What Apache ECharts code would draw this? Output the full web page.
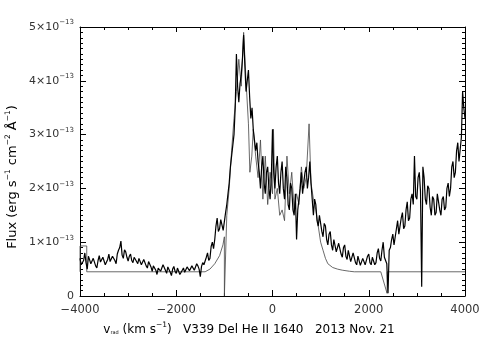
<!DOCTYPE html>
<html>
<head>
<meta charset="utf-8">
<script src="https://cdn.jsdelivr.net/npm/echarts@6/dist/echarts.min.js"></script>
<style>
  html, body { margin: 0; padding: 0; background: #fff; }
  #chart { width: 491px; height: 351px; }
</style>
</head>
<body>
<div id="chart"></div>
<script>
// flux in units of 1e-13 erg s^-1 cm^-2 A^-1, sampled every 25 km/s from -4000
const vStart = -4000;
const vStep = 25;
const fluxObs = [
  0.70, 0.58, 0.55, 0.66, 0.80, 0.62, 0.50, 0.74, 0.72, 0.60, 0.58, 0.70, 0.68, 0.56, 0.52, 0.66, 0.75, 0.63, 0.60, 0.72,
  0.70, 0.58, 0.55, 0.68, 0.78, 0.64, 0.62, 0.74, 0.72, 0.66, 0.60, 0.78, 0.85, 0.90, 1.02, 0.76, 0.70, 0.86, 0.82, 0.72,
  0.65, 0.74, 0.78, 0.66, 0.62, 0.72, 0.74, 0.64, 0.60, 0.70, 0.70, 0.58, 0.55, 0.68, 0.66, 0.56, 0.52, 0.64, 0.62, 0.54,
  0.46, 0.56, 0.58, 0.48, 0.40, 0.52, 0.55, 0.46, 0.45, 0.58, 0.60, 0.48, 0.42, 0.54, 0.52, 0.44, 0.38, 0.50, 0.55, 0.46,
  0.42, 0.52, 0.50, 0.40, 0.38, 0.48, 0.52, 0.44, 0.44, 0.54, 0.55, 0.47, 0.46, 0.56, 0.58, 0.48, 0.48, 0.60, 0.56, 0.50,
  0.36, 0.55, 0.62, 0.58, 0.55, 0.72, 0.80, 0.66, 0.70, 0.92, 1.00, 0.88, 1.05, 1.30, 1.45, 1.20, 1.25, 1.42, 1.40, 1.22,
  1.20, 1.55, 1.70, 1.90, 2.10, 2.40, 2.60, 2.80, 3.00, 3.50, 4.50, 3.90, 3.60, 3.95, 4.10, 4.40, 4.85, 4.30, 3.80, 4.00,
  4.20, 3.70, 3.30, 3.50, 3.10, 2.90, 2.70, 2.85, 2.50, 2.30, 2.00, 2.40, 2.60, 2.10, 1.90, 2.30, 2.40, 2.00, 1.80, 2.20,
  3.10, 2.30, 2.00, 2.40, 2.60, 2.10, 1.90, 2.30, 2.50, 2.00, 1.80, 2.40, 2.20, 1.70, 1.60, 2.10, 2.00, 1.60, 1.50, 1.90,
  1.05, 1.60, 1.80, 2.00, 2.30, 1.90, 1.90, 2.30, 2.40, 2.00, 2.20, 2.50, 2.10, 1.80, 1.50, 1.80, 1.70, 1.40, 1.30, 1.50,
  1.50, 1.20, 1.10, 1.35, 1.30, 1.05, 0.95, 1.15, 1.20, 0.95, 0.85, 1.05, 1.05, 0.82, 0.80, 0.98, 1.00, 0.78, 0.72, 0.90,
  0.95, 0.74, 0.68, 0.85, 0.85, 0.64, 0.62, 0.80, 0.80, 0.62, 0.58, 0.74, 0.75, 0.57, 0.55, 0.70, 0.72, 0.58, 0.60, 0.74,
  0.78, 0.62, 0.58, 0.72, 0.70, 0.58, 0.62, 0.80, 0.88, 0.70, 0.65, 0.85, 1.00, 0.72, 0.70, 0.60, 0.05, 0.85, 0.90, 1.05,
  1.15, 0.95, 0.95, 1.25, 1.40, 1.15, 1.15, 1.45, 1.55, 1.25, 1.30, 1.60, 1.75, 1.40, 1.45, 1.80, 1.90, 1.70, 2.60, 1.85,
  1.80, 2.20, 2.30, 1.95, 0.17, 2.40, 2.20, 1.80, 1.70, 2.05, 2.00, 1.65, 1.50, 1.85, 1.80, 1.50, 1.55, 1.90, 1.90, 1.60,
  1.50, 1.80, 1.85, 1.60, 1.65, 2.00, 2.10, 1.85, 2.00, 2.40, 2.50, 2.20, 2.30, 2.70, 2.85, 2.50, 2.50, 2.95, 3.80, 3.50,
  3.30
];
// second (thin) trace
const velocityRef = [
  -4000, -4000, -3860, -3860, -1400, -1300, -1200, -1100, -1030, -1000,
  -1000, -950, -900, -850, -800, -750, -700, -650, -600, -550,
  -500, -470, -430, -400, -350, -300, -250, -200, -150, -100,
  -50, 0, 20, 50, 100, 150, 200, 250, 300, 350,
  400, 450, 500, 550, 600, 650, 700, 760, 800, 850,
  900, 950, 1000, 1050, 1100, 1150, 1250, 1350, 1450, 1600,
  1700, 2250, 2380, 2385, 4000
];
const fluxRef = [
  0.45, 0.93, 0.93, 0.45, 0.45, 0.50, 0.60, 0.75, 0.95, 1.10,
  0.00, 1.50, 2.00, 2.70, 3.30, 3.80, 4.40, 3.90, 4.90, 4.00,
  3.20, 2.30, 2.60, 3.10, 2.60, 2.20, 2.90, 1.80, 2.60, 1.70,
  2.30, 1.90, 3.10, 1.80, 2.00, 1.50, 1.60, 1.40, 2.60, 1.90,
  2.30, 1.60, 1.90, 1.70, 2.40, 2.00, 2.20, 3.20, 2.10, 1.80,
  1.60, 1.30, 1.00, 0.85, 0.70, 0.60, 0.53, 0.50, 0.48, 0.46,
  0.45, 0.45, 0.05, 0.45, 0.45
];
const xTicks = [-4000, -2000, 0, 2000, 4000];
const yTicks = [0, 1, 2, 3, 4, 5];

const chart = echarts.init(document.getElementById('chart'), null, { renderer: 'canvas' });

const font = '"DejaVu Sans", sans-serif';
const ink = '#333';

const supStyle = { fontSize: 7, fontFamily: font, color: ink, padding: [0, 0, 9, 0] };
const subStyle = { fontSize: 5, fontFamily: font, color: ink, padding: [5, 0, 0, 0] };
const baseStyle = { fontSize: 11, fontFamily: font, color: ink };
const titleStyle = { fontSize: 12, fontFamily: font, color: ink };
const titleSup = { fontSize: 7.5, fontFamily: font, color: ink, padding: [0, 0, 10, 0] };

const axisCommon = {
  type: 'value',
  axisLine: { show: true, onZero: false, lineStyle: { color: '#000', width: 1 } },
  axisTick: { show: true, inside: true, length: 6, lineStyle: { color: '#000', width: 1 } },
  minorTick: { show: true, length: 3, lineStyle: { color: '#000', width: 1 } },
  splitLine: { show: false },
  minorSplitLine: { show: false }
};

const option = {
  animation: false,
  backgroundColor: '#fff',
  grid: { left: 80, right: 26, top: 27, bottom: 55 },
  xAxis: [
    Object.assign({}, axisCommon, {
      position: 'bottom',
      min: xTicks[0], max: xTicks[xTicks.length - 1], interval: 2000,
      minorTick: Object.assign({}, axisCommon.minorTick, { splitNumber: 4 }),
      axisLabel: {
        margin: 8, fontSize: 11.5, fontFamily: font, color: ink,
        formatter: v => String(v).replace('-', '\u2212')
      }
    }),
    Object.assign({}, axisCommon, {
      position: 'top',
      min: xTicks[0], max: xTicks[xTicks.length - 1], interval: 2000,
      axisTick: Object.assign({}, axisCommon.axisTick, { length: 5 }),
      minorTick: Object.assign({}, axisCommon.minorTick, { splitNumber: 4 }),
      axisLabel: { show: false }
    })
  ],
  yAxis: [
    Object.assign({}, axisCommon, {
      position: 'left',
      min: yTicks[0], max: yTicks[yTicks.length - 1], interval: 1,
      minorTick: Object.assign({}, axisCommon.minorTick, { splitNumber: 10 }),
      axisLabel: {
        margin: 6,
        formatter: v => v === 0 ? '{b|0}' : '{b|' + v + '\u00d710}{s|\u221213}',
        rich: { b: baseStyle, s: supStyle }
      }
    }),
    Object.assign({}, axisCommon, {
      position: 'right',
      min: yTicks[0], max: yTicks[yTicks.length - 1], interval: 1,
      minorTick: Object.assign({}, axisCommon.minorTick, { splitNumber: 10 }),
      axisLabel: { show: false }
    })
  ],
  graphic: [
    {
      type: 'text',
      x: 249, y: 330,
      style: {
        text: '{b|v}{d|rad}{b| (km s}{s|\u22121}{b|)   V339 Del He II 1640   2013 Nov. 21}',
        align: 'center', verticalAlign: 'middle',
        rich: { b: titleStyle, s: titleSup, d: subStyle }
      }
    },
    {
      type: 'text',
      x: 13, y: 177,
      rotation: Math.PI / 2,
      style: {
        text: '{b|Flux (erg s}{s|\u22121}{b| cm}{s|\u22122}{b| \u00c5}{s|\u22121}{b|)}',
        align: 'center', verticalAlign: 'middle',
        rich: { b: Object.assign({}, titleStyle, { fontSize: 13 }), s: titleSup }
      }
    }
  ],
  series: [
    {
      name: 'reference',
      type: 'line',
      xAxisIndex: 0, yAxisIndex: 0,
      data: velocityRef.map((v, i) => [v, fluxRef[i]]),
      showSymbol: false,
      symbol: 'none',
      lineStyle: { color: '#444', width: 0.8 }
    },
    {
      name: 'V339 Del',
      type: 'line',
      xAxisIndex: 0, yAxisIndex: 0,
      data: fluxObs.map((f, i) => [vStart + i * vStep, f]),
      showSymbol: false,
      symbol: 'none',
      lineStyle: { color: '#000', width: 1.2 }
    }
  ]
};

chart.setOption(option);
</script>
</body>
</html>
